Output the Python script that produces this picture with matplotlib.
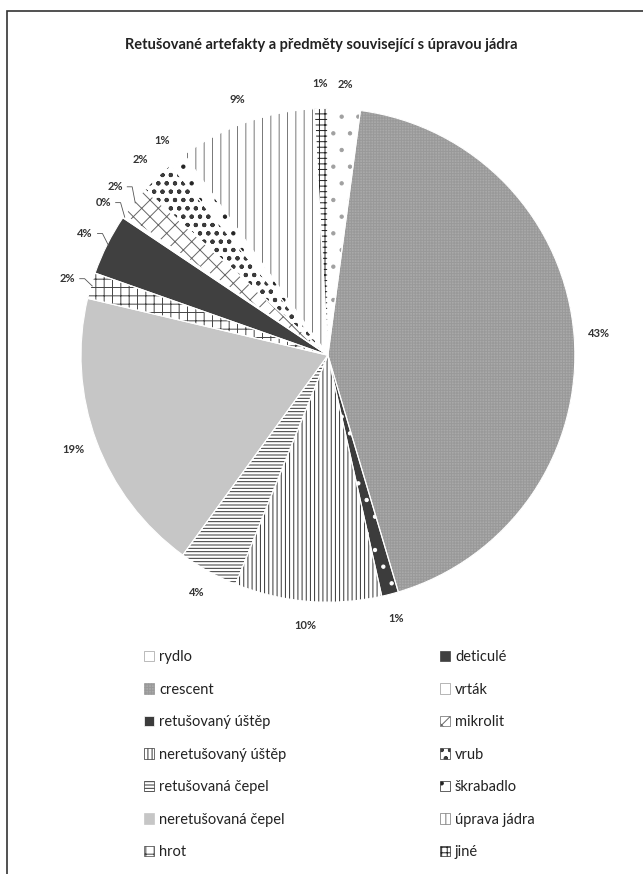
import numpy as np
import matplotlib
matplotlib.use("Agg")
import matplotlib.pyplot as plt
from matplotlib.patches import Rectangle

plt.rcParams['font.family'] = ['Lato', 'DejaVu Sans']
plt.rcParams['hatch.linewidth'] = 0.7

# podíly jednotlivých typů (%)
kategorie = ['rydlo', 'crescent', 'retušovaný úštěp', 'neretušovaný úštěp',
             'retušovaná čepel', 'neretušovaná čepel', 'hrot', 'deticulé',
             'vrták', 'mikrolit', 'vrub', 'škrabadlo', 'úprava jádra', 'jiné']
podil = [2.1, 43.3, 1.1, 9.6, 3.9, 18.7, 1.7, 4.0, 0.2, 2.1, 2.3, 1.1, 9.0, 0.9]

# výplň, šrafa, barva šrafy
vypln = ['white', '#a9a9a9', '#3c3c3c', 'white', 'white', '#c6c6c6', 'white',
         '#404040', 'white', 'white', 'white', 'white', 'white', 'white']
srafa = ['.', '++++++', '.', '||||', '-----', None, '++', None,
         None, 'xx', 'oo..', '.', '||', '+++']
barva_srafy = ['#a0a0a0', '#999999', 'white', '#333333', '#333333', '#c6c6c6',
               '#444444', '#404040', '#999999', '#666666', '#3a3a3a', '#222222',
               '#777777', '#222222']
s_cárou = ['hrot', 'deticulé', 'vrták', 'mikrolit']

fig = plt.figure(figsize=(6.43, 8.74), dpi=100)
ax = fig.add_axes([0.126, 0.311, 0.768, 0.565])

wedges, _ = ax.pie(podil, labels=kategorie, startangle=90, counterclock=False,
                   labeldistance=None, wedgeprops=dict(linewidth=0))
for w, fc, h, hc in zip(wedges, vypln, srafa, barva_srafy):
    w.set_facecolor(fc)
    w.set_edgecolor(hc)
    w.set_hatch(h)
    w.set_linewidth(0)

# bílé oddělovače výsečí
ax.pie(podil, startangle=90, counterclock=False,
       wedgeprops=dict(fill=False, edgecolor='white', linewidth=0.8))

celkem = sum(podil)
for w, nazev, p in zip(wedges, kategorie, podil):
    uhel = np.deg2rad((w.theta1 + w.theta2) / 2)
    c, s = np.cos(uhel), np.sin(uhel)
    tx, ty = 1.1 * c, 1.1 * s
    ax.text(tx, ty, f'{round(p / celkem * 100):.0f}%', ha='center', va='center',
            fontsize=8, fontweight='bold', color='#333333', clip_on=False)
    if nazev in s_cárou:
        ax.plot([tx + 0.05, tx + 0.07, 0.995 * c], [ty, ty, 0.995 * s],
                color='#555555', lw=0.6, clip_on=False)

ax.set_xlim(-1, 1)
ax.set_ylim(-1, 1)
ax.set_aspect('equal')
ax.axis('off')

fig.text(0.499, 0.9485, 'Retušované artefakty a předměty související s úpravou jádra',
         ha='center', va='center', fontsize=10.5, fontweight='bold', color='#222222')

leg = fig.legend(handles=wedges, loc='upper left', bbox_to_anchor=(144 / 643, 1 - 650 / 874),
                 ncol=2, frameon=False, fontsize=10.5, borderpad=0, borderaxespad=0,
                 handlelength=0.7, handleheight=0.7, handletextpad=0.35,
                 labelspacing=1.27, columnspacing=10.5)
for t in leg.get_texts():
    t.set_color('#222222')
for h in leg.legend_handles:
    h.set_linewidth(0.5)

# rám grafu
fig.patches.append(Rectangle((7 / 643, -0.01), 1.0, 1 - 11 / 874 + 0.01,
                             transform=fig.transFigure, fill=False,
                             edgecolor='#333333', linewidth=1.2))

fig.savefig('out.png', dpi=100, facecolor='white')
